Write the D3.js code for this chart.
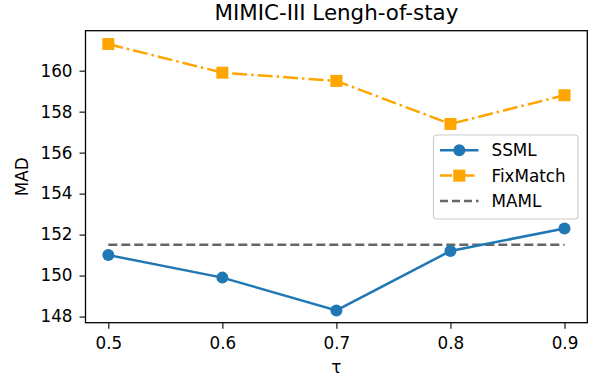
<!DOCTYPE html>
<html>
<head>
<meta charset="utf-8">
<script src="https://cdn.jsdelivr.net/npm/d3@7"></script>
<style>
  body { margin: 0; background: #fff; }
  text { font-family: "DejaVu Sans", sans-serif; fill: #000; }
</style>
</head>
<body>
<svg id="chart" width="591" height="377"></svg>
<script>
// Data
const taus = [0.5, 0.6, 0.7, 0.8, 0.9];
const ssml = [151.0, 149.9, 148.3, 151.2, 152.3];
const fixmatch = [161.3, 159.9, 159.5, 157.4, 158.8];
const maml = 151.5;
const yTicks = [148, 150, 152, 154, 156, 158, 160];
const seriesNames = ["SSML", "FixMatch", "MAML"];

const margins = { top: 30.7, right: 3.7, bottom: 54.3, left: 85.5 };
const width = 591, height = 377;
const svg = d3.select("#chart");

const x = d3.scaleLinear().domain([0.48, 0.92]).range([margins.left, width - margins.right]);
const y = d3.scaleLinear().domain([147.7, 161.95]).range([height - margins.bottom, margins.top]);

const tickFont = 16.8;

// x axis
const xAxis = svg.append("g")
  .attr("transform", `translate(0, ${height - margins.bottom})`)
  .call(d3.axisBottom(x).tickValues(taus).tickFormat(d3.format(".1f")).tickSizeInner(6).tickSizeOuter(0).tickPadding(8));
// y axis
const yAxis = svg.append("g")
  .attr("transform", `translate(${margins.left}, 0)`)
  .call(d3.axisLeft(y).tickValues(yTicks).tickSizeInner(6).tickSizeOuter(0).tickPadding(7));
[xAxis, yAxis].forEach(g => {
  g.select(".domain").remove();
  g.selectAll("text").style("font-size", tickFont + "px").attr("fill", "#000");
  g.selectAll("line").attr("stroke", "#000").attr("stroke-width", 1.1);
});

// frame
svg.append("rect")
  .attr("x", margins.left).attr("y", margins.top)
  .attr("width", width - margins.left - margins.right)
  .attr("height", height - margins.top - margins.bottom)
  .attr("fill", "none").attr("stroke", "#000").attr("stroke-width", 1.3);

const line = d3.line().x(d => x(d[0])).y(d => y(d[1]));

// MAML
svg.append("path")
  .datum([[taus[0], maml], [taus[taus.length - 1], maml]])
  .attr("d", line)
  .attr("fill", "none").attr("stroke", "#666").attr("stroke-width", 2.5)
  .attr("stroke-dasharray", "9,4");

// FixMatch
svg.append("path")
  .datum(taus.map((t, i) => [t, fixmatch[i]]))
  .attr("d", line)
  .attr("fill", "none").attr("stroke", "orange").attr("stroke-width", 2.5)
  .attr("stroke-dasharray", "15,4,2.5,4");
svg.selectAll("rect.fm")
  .data(taus.map((t, i) => [t, fixmatch[i]]))
  .join("rect").attr("class", "fm")
  .attr("x", d => x(d[0]) - 6).attr("y", d => y(d[1]) - 6)
  .attr("width", 12).attr("height", 12)
  .attr("fill", "orange");

// SSML
svg.append("path")
  .datum(taus.map((t, i) => [t, ssml[i]]))
  .attr("d", line)
  .attr("fill", "none").attr("stroke", "#1f77b4").attr("stroke-width", 2.5);
svg.selectAll("circle.ss")
  .data(taus.map((t, i) => [t, ssml[i]]))
  .join("circle").attr("class", "ss")
  .attr("cx", d => x(d[0])).attr("cy", d => y(d[1]))
  .attr("r", 6).attr("fill", "#1f77b4");

// title & labels
svg.append("text")
  .attr("x", (margins.left + width - margins.right) / 2).attr("y", 19.5)
  .attr("text-anchor", "middle").style("font-size", "21.4px")
  .text("MIMIC-III Lengh-of-stay");
svg.append("text")
  .attr("x", (margins.left + width - margins.right) / 2).attr("y", 373)
  .attr("text-anchor", "middle").style("font-size", tickFont + "px")
  .text("τ");
svg.append("text")
  .attr("transform", `translate(28, ${(margins.top + height - margins.bottom) / 2}) rotate(-90)`)
  .attr("text-anchor", "middle").style("font-size", tickFont + "px")
  .text("MAD");

// legend
const lg = svg.append("g").attr("transform", "translate(433.5, 135)");
lg.append("rect").attr("width", 144.5).attr("height", 84).attr("rx", 3)
  .attr("fill", "#fff").attr("fill-opacity", 0.8).attr("stroke", "#ccc").attr("stroke-width", 1.2);
const styles = [
  { color: "#1f77b4", dash: null, marker: "circle" },
  { color: "orange", dash: "12,4,2.5,4", marker: "square" },
  { color: "#666", dash: "8,4", marker: null }
];
seriesNames.forEach((name, i) => {
  const cy = 15.3 + i * 25.3;
  const s = styles[i];
  lg.append("line").attr("x1", 6.5).attr("x2", 45).attr("y1", cy).attr("y2", cy)
    .attr("stroke", s.color).attr("stroke-width", 2.5)
    .attr("stroke-dasharray", s.dash);
  if (s.marker === "circle") {
    lg.append("circle").attr("cx", 25.8).attr("cy", cy).attr("r", 6).attr("fill", s.color);
  } else if (s.marker === "square") {
    lg.append("rect").attr("x", 19.8).attr("y", cy - 6).attr("width", 12).attr("height", 12).attr("fill", s.color);
  }
  lg.append("text").attr("x", 58).attr("y", cy).attr("dy", "0.36em")
    .style("font-size", tickFont + "px").text(name);
});
</script>
</body>
</html>
